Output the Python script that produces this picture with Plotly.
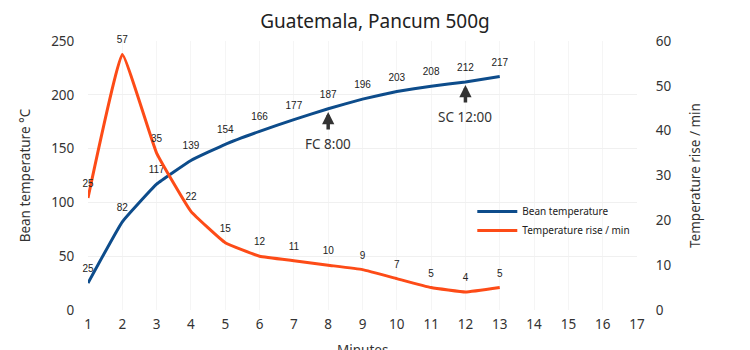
import plotly.graph_objects as go

minutes = list(range(1, 14))
bean_temp = [25, 82, 117, 139, 154, 166, 177, 187, 196, 203, 208, 212, 217]
temp_rise = [25, 57, 35, 22, 15, 12, 11, 10, 9, 7, 5, 4, 5]
x_ticks = list(range(1, 18))
events = [("FC 8:00", 8, 187), ("SC 12:00", 12, 212)]

BLUE = "#0d4c8b"
ORANGE = "#fd4b17"
AXFONT = dict(family="Noto Sans", size=13.5, color="#333333")
LBLFONT = dict(family="Liberation Sans", size=10, color="#222222")
HIDDEN = dict(size=12, color="rgba(0,0,0,0)")

fig = go.Figure()
fig.add_trace(go.Scatter(
    x=minutes, y=bean_temp, name="Bean temperature", mode="lines+markers+text",
    line=dict(color=BLUE, width=3, shape="spline", smoothing=0.3),
    marker=HIDDEN,
    text=[str(v) for v in bean_temp], textposition="top center",
    textfont=LBLFONT, cliponaxis=False, yaxis="y"))
fig.add_trace(go.Scatter(
    x=minutes, y=temp_rise, name="Temperature rise / min", mode="lines+markers+text",
    line=dict(color=ORANGE, width=3, shape="spline", smoothing=0.3),
    marker=HIDDEN,
    text=[str(v) for v in temp_rise], textposition="top center",
    textfont=LBLFONT, cliponaxis=False, yaxis="y2"))

for label, xm, yv in events:
    fig.add_annotation(
        x=xm, y=yv - 3, xref="x", yref="y", text=label,
        showarrow=True, arrowhead=2, arrowwidth=3.5, arrowsize=0.7,
        arrowcolor="#333333", ax=0, ay=32, startstandoff=4,
        font=dict(family="Noto Sans", size=13.5, color="#333333"))

fig.add_annotation(
    x=0.5, y=-0.149, xref="paper", yref="paper", text="Minutes",
    showarrow=False, xanchor="center", yanchor="middle", font=AXFONT)

fig.update_layout(
    width=750, height=350,
    margin=dict(l=88, r=113, t=41, b=40),
    paper_bgcolor="white", plot_bgcolor="white",
    title=dict(text="Guatemala, Pancum 500g", x=0.5, xanchor="center",
               y=0.94, yanchor="middle",
               font=dict(family="Noto Sans", size=19, color="#222222")),
    xaxis=dict(range=[1, 17], tickvals=x_ticks, showgrid=True,
               gridcolor="#f5f5f5", zeroline=False, showline=False,
               ticks="outside", ticklen=2, tickcolor="rgba(0,0,0,0)",
               tickfont=AXFONT, automargin=False),
    yaxis=dict(range=[0, 250], dtick=50, showgrid=True, gridcolor="#f0f0f0",
               zeroline=False, showline=False, tickfont=AXFONT,
               ticks="outside", ticklen=10, tickcolor="rgba(0,0,0,0)",
               automargin=False,
               title=dict(text="Bean temperature °C", font=AXFONT, standoff=17)),
    yaxis2=dict(range=[0, 60], dtick=10, overlaying="y", side="right",
                showgrid=False, zeroline=False, showline=False,
                ticks="outside", ticklen=15, tickcolor="rgba(0,0,0,0)",
                tickfont=AXFONT, automargin=False,
                title=dict(text="Temperature rise / min", font=AXFONT, standoff=20)),
    legend=dict(x=0.7, y=0.42, xanchor="left", yanchor="top",
                bgcolor="rgba(255,255,255,0)",
                font=dict(family="Noto Sans", size=10, color="#222222"),
                itemwidth=40),
    showlegend=True,
)

fig.write_html("out.html")
